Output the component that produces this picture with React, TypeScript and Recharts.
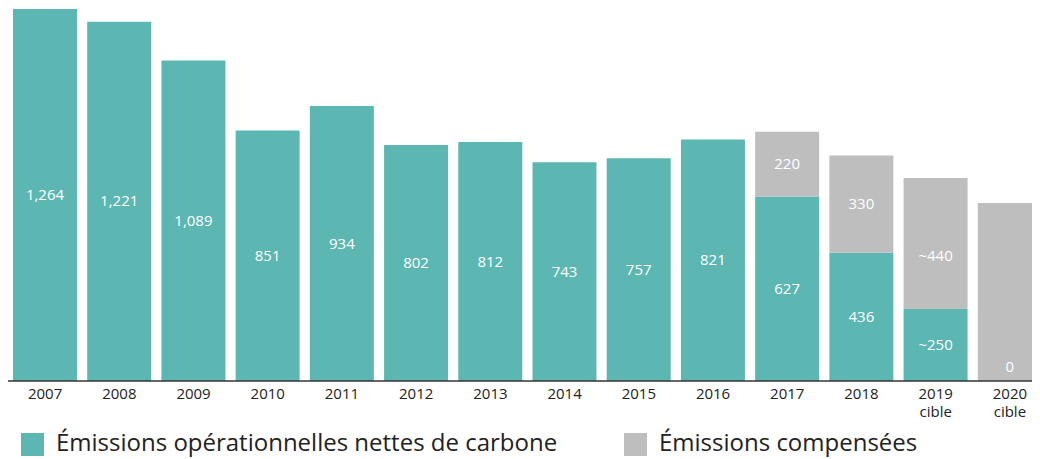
import React from "react";
import { BarChart, Bar, XAxis, YAxis, LabelList, Legend } from "recharts";

const years = ["2007", "2008", "2009", "2010", "2011", "2012", "2013", "2014", "2015", "2016", "2017", "2018", "2019", "2020"];
const yearSub = ["", "", "", "", "", "", "", "", "", "", "", "", "cible", "cible"];
const netEmissions = [1264, 1221, 1089, 851, 934, 802, 812, 743, 757, 821, 627, 436, 245, 0];
const compensated = [0, 0, 0, 0, 0, 0, 0, 0, 0, 0, 220, 330, 445, 605];
const netLabels = ["1,264", "1,221", "1,089", "851", "934", "802", "812", "743", "757", "821", "627", "436", "~250", "0"];
const compLabels = ["", "", "", "", "", "", "", "", "", "", "220", "330", "~440", ""];
const seriesNames = ["Émissions opérationnelles nettes de carbone", "Émissions compensées"];

const TEAL = "#5cb7b2";
const GRAY = "#bebebe";
const FONT = "'Open Sans', 'Noto Sans', sans-serif";

const data = years.map((y, i) => ({
  year: y,
  net: netEmissions[i],
  comp: compensated[i],
}));

const NetLabel = (props: any) => {
  const { x, y, width, height, value } = props;
  const i = years.indexOf(String(value));
  const h = Number(height);
  if (i < 0 || !netLabels[i] || !(h > 2)) return null;
  return (
    <text x={Number(x) + Number(width) / 2} y={Number(y) + h / 2} dy={5} textAnchor="middle" fill="#ffffff" fontSize={15} fontFamily={FONT}>
      {netLabels[i]}
    </text>
  );
};

const CompLabel = (props: any) => {
  const { x, y, width, height, value } = props;
  const i = years.indexOf(String(value));
  if (i < 0) return null;
  const cx = Number(x) + Number(width) / 2;
  const h = Number(height);
  const items: any[] = [];
  const label = compLabels[i];
  if (label && h > 2) {
    const shift = label.startsWith("~") ? 13 : 0;
    items.push(
      <text key="c" x={cx} y={Number(y) + h / 2 + shift} dy={5} textAnchor="middle" fill="#ffffff" fontSize={15} fontFamily={FONT}>
        {label}
      </text>
    );
  }
  // a net value of zero has no visible bar: show its label at the base of the stack
  if (netEmissions[i] === 0 && netLabels[i] && h > 2) {
    items.push(
      <text key="n" x={cx} y={Number(y) + h - 14} dy={5} textAnchor="middle" fill="#ffffff" fontSize={15} fontFamily={FONT}>
        {netLabels[i]}
      </text>
    );
  }
  if (!items.length) return null;
  return <g>{items}</g>;
};

const Tick = (props: any) => {
  const { x, y, payload, index } = props;
  const sub = yearSub[index];
  return (
    <text x={x} y={y} textAnchor="middle" fill="#222" fontSize={15} fontFamily={FONT}>
      <tspan x={x} dy={10}>{payload.value}</tspan>
      {sub ? <tspan x={x} dy={18}>{sub}</tspan> : null}
    </text>
  );
};

const LegendContent = () => (
  <div style={{ position: "relative", height: 38, width: 1032, fontFamily: FONT, color: "#222" }}>
    <div style={{ position: "absolute", left: 13, top: 12, width: 23, height: 23, background: TEAL }} />
    <div style={{ position: "absolute", left: 48, top: 4, fontSize: 24, lineHeight: "34px", whiteSpace: "nowrap" }}>{seriesNames[0]}</div>
    <div style={{ position: "absolute", left: 616, top: 12, width: 23, height: 23, background: GRAY }} />
    <div style={{ position: "absolute", left: 651, top: 4, fontSize: 24, lineHeight: "34px", whiteSpace: "nowrap" }}>{seriesNames[1]}</div>
  </div>
);

export default function App() {
  return (
    <div style={{ width: 1032, height: 451, overflow: "hidden", position: "relative" }}>
      <BarChart width={1039} height={451} data={data} margin={{ top: 1, right: 0, bottom: 0, left: 0 }} barSize={64}>
        <YAxis hide domain={[0, 1264]} />
        <XAxis dataKey="year" height={40} tickLine={false} axisLine={{ stroke: "#333", strokeWidth: 1.5 }} tick={<Tick />} interval={0} />
        <Legend verticalAlign="bottom" content={<LegendContent />} wrapperStyle={{ left: 0, bottom: 0, width: 1032, height: 38 }} />
        <Bar dataKey="net" stackId="a" fill={TEAL} isAnimationActive={false}>
          <LabelList dataKey="year" content={<NetLabel />} />
        </Bar>
        <Bar dataKey="comp" stackId="a" fill={GRAY} isAnimationActive={false}>
          <LabelList dataKey="year" content={<CompLabel />} />
        </Bar>
      </BarChart>
    </div>
  );
}
